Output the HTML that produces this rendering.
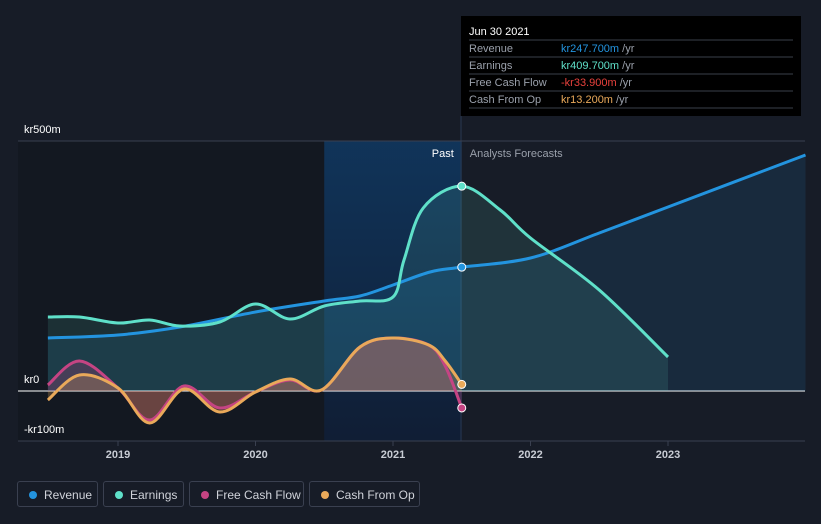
<!DOCTYPE html>
<html><head><meta charset="utf-8"><style>
body{margin:0;background:#171c27;font-family:"Liberation Sans",sans-serif;}
svg{display:block}
.leg{position:absolute;top:481px;height:26px;border:1px solid #3a4050;border-radius:3px;color:#d0d3da;font-size:12px;line-height:26px;box-sizing:border-box;padding-left:26px}
.leg i{position:absolute;left:11px;top:9px;width:8px;height:8px;border-radius:50%}
</style></head><body>
<div style="position:relative;width:821px;height:524px;overflow:hidden">
<svg id="c" width="821" height="524"></svg>
<div class="leg" style="left:17px;width:81px"><i style="background:#2394df"></i>Revenue</div>
<div class="leg" style="left:103px;width:81px"><i style="background:#5fe0c9"></i>Earnings</div>
<div class="leg" style="left:189px;width:115px"><i style="background:#c54483"></i>Free Cash Flow</div>
<div class="leg" style="left:309px;width:111px"><i style="background:#e9a95a"></i>Cash From Op</div>
</div>
<script>
const revT=[2018.49,2019,2019.45,2020,2020.5,2020.76,2021,2021.27,2021.5,2022,2022.5,2023,2024];
const revV=[106,112,128,158,180,190,212,238,247.7,266,316,368,472];
const earnT=[2018.49,2018.72,2019,2019.23,2019.45,2019.74,2020,2020.25,2020.5,2020.76,2021,2021.08,2021.22,2021.5,2021.78,2022,2022.5,2023];
const earnV=[148,148,136,142,130,138,174,144,170,180,188,262,366,409.7,362,306,202,68];
const fcfT=[2018.49,2018.72,2019,2019.23,2019.48,2019.74,2020,2020.25,2020.48,2020.76,2021,2021.26,2021.38,2021.5];
const fcfV=[12,60,6,-58,10,-34,-2,22,2,88,106,92,50,-33.9];
const cfoT=[2018.49,2018.72,2019,2019.23,2019.48,2019.74,2020,2020.25,2020.48,2020.76,2021,2021.26,2021.38,2021.5];
const cfoV=[-18,32,6,-64,4,-42,-2,24,2,88,106,92,60,13.2];
const yTicks=[500,0,-100];const yLabels=["kr500m","kr0","-kr100m"];
const xTicks=[2019,2020,2021,2022,2023];
const X=t=>118+(t-2019)*137.5, Y=v=>391-v*0.5;
const NS="http://www.w3.org/2000/svg",svg=document.getElementById('c');
function el(tag,a,txt){const e=document.createElementNS(NS,tag);for(const k in a)e.setAttribute(k,a[k]);if(txt!=null)e.textContent=txt;svg.appendChild(e);return e;}
function path(T,V){const p=T.map((t,i)=>[X(t),Y(V[i])]);let d=`M${p[0][0]},${p[0][1]}`;
for(let i=0;i<p.length-1;i++){const p0=p[i-1]||p[i],p1=p[i],p2=p[i+1],p3=p[i+2]||p2;
d+=`C${p1[0]+(p2[0]-p0[0])/6},${p1[1]+(p2[1]-p0[1])/6} ${p2[0]-(p3[0]-p1[0])/6},${p2[1]-(p3[1]-p1[1])/6} ${p2[0]},${p2[1]}`;}return {d,p};}
const defs=el('defs',{});
defs.innerHTML='<linearGradient id="bg" x1="0" y1="0" x2="0" y2="1"><stop offset="0" stop-color="#0f3a66" stop-opacity="0.8"/><stop offset="1" stop-color="#0e1e38" stop-opacity="0.8"/></linearGradient>';
let r=el('rect',{x:18,y:141,width:X(2020.5)-18,height:300,fill:'#131821'});
r=el('rect',{x:X(2020.5),y:141,width:X(2021.5)-X(2020.5),height:300,fill:'url(#bg)'});
el('line',{x1:461,x2:461,y1:116,y2:441,stroke:'#2a3850'});
yTicks.forEach((v,i)=>{let l=el('line',{x1:18,x2:805,y1:Y(v),y2:Y(v),stroke:v===0?'#ffffff':'#3a4050','stroke-width':1});

let t=el('text',{x:24,y:Y(v)-8,fill:'#fff','font-size':11},yLabels[i]);});
let g=el('line',{x1:18,x2:805,y1:441,y2:441,stroke:'#3a4050'});
xTicks.forEach(v=>{el('line',{x1:X(v),x2:X(v),y1:441,y2:446,stroke:'#3a4050'});let t=el('text',{x:X(v),y:458,fill:'#c8ccd4','font-size':11,'font-weight':'bold','text-anchor':'middle'},v);});
const series=[[revT,revV,'#2394df','#2394df','revenue'],[earnT,earnV,'#5fe0c9','#5fe0c9','earnings'],[fcfT,fcfV,'#c54483','#c54483','free-cash-flow'],[cfoT,cfoV,'#e9a95a','#e9a95a','cash-from-op']];
series.forEach(s=>{const {d,p}=path(s[0],s[1]);const last=p[p.length-1];
let a=el('path',{d:d+`L${last[0]},391L${p[0][0]},391Z`,fill:s[3],'fill-opacity':s[4]=='revenue'||s[4]=='earnings'?0.12:0.25});});
series.forEach(s=>{const {d,p}=path(s[0],s[1]);
let l=el('path',{d,fill:'none',stroke:s[2],'stroke-width':3});
const i=s[0].indexOf(2021.5);if(i>=0){let c=el('circle',{cx:p[i][0],cy:p[i][1],r:4,fill:s[2],stroke:'#fff','stroke-width':1});}});
let t=el('text',{x:X(2021.5)-8,y:157,fill:'#fff','font-size':11,'text-anchor':'end'},'Past');
t=el('text',{x:X(2021.5)+8,y:157,fill:'#9aa0ab','font-size':11},'Analysts Forecasts');
let tb=el('rect',{x:461,y:16,width:340,height:100,fill:'#000'});
el('text',{x:469,y:35,fill:'#fff','font-size':11},'Jun 30 2021');
const rows=[['Revenue','kr247.700m','#2394df'],['Earnings','kr409.700m','#5fe0c9'],['Free Cash Flow','-kr33.900m','#e8413c'],['Cash From Op','kr13.200m','#e9a95a']];
rows.forEach((rw,i)=>{const y=40+i*17;el('line',{x1:469,x2:793,y1:y,y2:y,stroke:'#3a3f4a'});
el('text',{x:469,y:y+12,fill:'#9aa0ab','font-size':11},rw[0]);
const v=el('text',{x:561,y:y+12,fill:rw[2],'font-size':11},rw[1]);
const ts=document.createElementNS(NS,'tspan');ts.setAttribute('fill','#9aa0ab');ts.textContent=' /yr';v.appendChild(ts);});
el('line',{x1:469,x2:793,y1:108,y2:108,stroke:'#3a3f4a'});
</script>
</body></html>
